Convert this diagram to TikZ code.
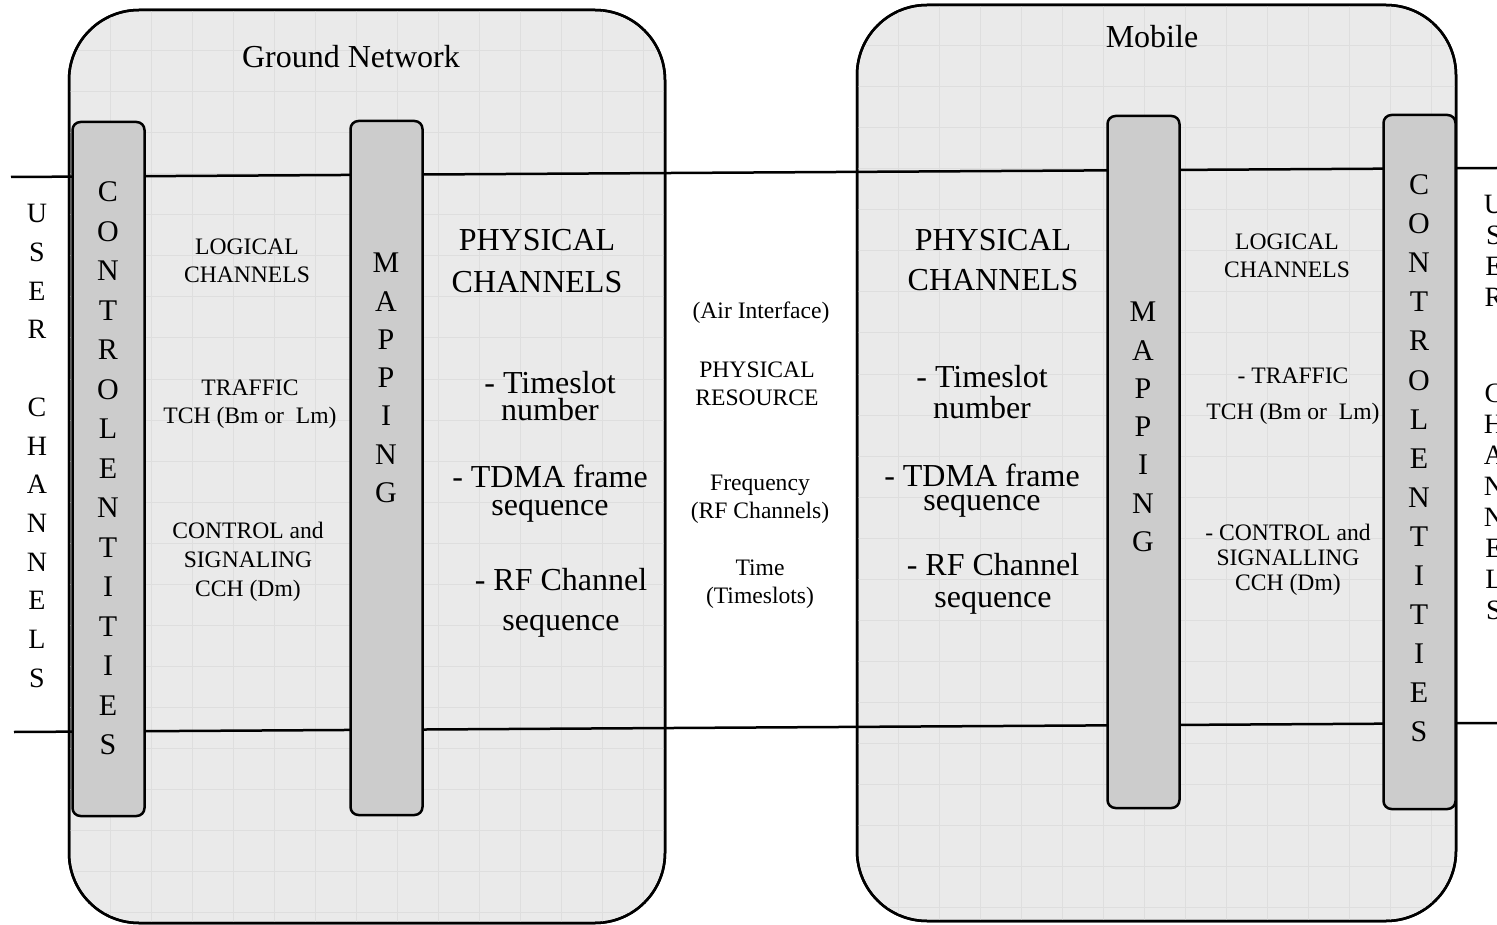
\documentclass[tikz,border=0pt]{standalone}
\usepackage{fontspec}
\setmainfont{Liberation Serif}
\definecolor{boxfill}{RGB}{234,234,234}
\definecolor{barfill}{RGB}{204,204,204}
\definecolor{gridc}{RGB}{222,222,222}
\begin{document}
\begin{tikzpicture}[x=1pt,y=-1pt,
  bigbox/.style={draw=black,line width=2.5pt,fill=boxfill,rounded corners=70pt,inner sep=0},
  barbox/.style={draw=black,line width=2.5pt,fill=barfill,rounded corners=8pt,inner sep=0,minimum width=72pt},
  gridline/.style={draw=gridc,line width=1pt},
  hline/.style={draw=black,line width=2.5pt},
  small/.style={font=\fontsize{23.6}{28}\selectfont,align=center,inner sep=0},
  big/.style={font=\fontsize{32}{27}\selectfont,align=center,inner sep=0},
  letters/.style={align=center,inner sep=0},
]
\useasboundingbox (0,0) rectangle (1497,925);
\clip (0,0) rectangle (1497,925);
% big boxes
\node[bigbox,minimum width=596pt,minimum height=913pt] (gn) at (367,466.5) {};
\node[bigbox,minimum width=599pt,minimum height=916pt] (mob) at (1156.5,463) {};
\begin{scope}
\clip[rounded corners=70pt] (69,10) rectangle (665,923);
\foreach \x in {69,110,...,700} \draw[gridline] (\x,0) -- (\x,925);
\foreach \y in {10,51,...,930} \draw[gridline] (0,\y) -- (700,\y);
\end{scope}
\begin{scope}
\clip[rounded corners=70pt] (857,5) rectangle (1456,921);
\foreach \x in {857,898,...,1480} \draw[gridline] (\x,0) -- (\x,925);
\foreach \y in {5,46,...,930} \draw[gridline] (850,\y) -- (1480,\y);
\end{scope}
\draw[line width=2.5pt,rounded corners=70pt] (69,10) rectangle (665,923);
\draw[line width=2.5pt,rounded corners=70pt] (857,5) rectangle (1456,921);
% horizontal lines
\coordinate (tl) at (11,177);
\coordinate (tr) at (1497,168);
\coordinate (bl) at (14,732);
\coordinate (br) at (1497,723);
\draw[hline] (tl) -- (tr);
\draw[hline] (bl) -- (br);
% bars
\node[barbox,minimum height=694pt] (cbL) at (108.5,469) {};
\node[barbox,minimum height=694pt] (mbL) at (386.5,468) {};
\node[barbox,minimum height=692pt] (mbR) at (1143.5,462) {};
\node[barbox,minimum height=694pt] (cbR) at (1419.5,462) {};
% vertical letter stacks
\node[letters,font=\fontsize{28}{38.7}\selectfont] (ucL) at (37,446)
  {U\\S\\E\\R\\[38.7pt]C\\H\\A\\N\\N\\E\\L\\S};
\node[letters,font=\fontsize{30}{39.5}\selectfont] (ceL) at (108,468.5)
  {C\\O\\N\\T\\R\\O\\L\\E\\N\\T\\I\\T\\I\\E\\S};
\node[letters,font=\fontsize{30}{38.3}\selectfont] (mpL) at (386,378)
  {M\\A\\P\\P\\I\\N\\G};
\node[letters,font=\fontsize{30}{38.3}\selectfont] (mpR) at (1143,427)
  {M\\A\\P\\P\\I\\N\\G};
\node[letters,font=\fontsize{30}{39.1}\selectfont] (ceR) at (1419,458.5)
  {C\\O\\N\\T\\R\\O\\L\\E\\N\\T\\I\\T\\I\\E\\S};
\node[letters,font=\fontsize{28}{31}\selectfont] (ucR) at (1494,407)
  {U\\S\\E\\R\\[65pt]C\\H\\A\\N\\N\\E\\L\\S};
% titles
\node[big] (tgn) at (351,57) {Ground Network};
\node[big] (tmob) at (1152,37) {Mobile};
% left logical
\node[small] (ll1) at (247,261) {LOGICAL\\CHANNELS};
\node[small] (ll2) at (250,404) {TRAFFIC\\TCH (Bm or\ \ Lm)};
\node[small,font=\fontsize{23.6}{29}\selectfont] (ll3) at (248,562) {CONTROL and\\SIGNALING\\CCH (Dm)};
% left physical
\node[big,font=\fontsize{32}{42}\selectfont] (pl1) at (537,261) {PHYSICAL\\CHANNELS};
\node[big] (pl2) at (550,396) {- Timeslot\\number};
\node[big,font=\fontsize{32}{28}\selectfont] (pl3) at (550,494) {- TDMA frame\\sequence};
\node[big,font=\fontsize{32}{40}\selectfont] (pl4) at (561,603) {- RF Channel\\sequence};
% middle
\node[small] (m1) at (761,313) {(Air Interface)};
\node[small] (m2) at (757,384) {PHYSICAL\\RESOURCE};
\node[small] (m3) at (760,499) {Frequency\\(RF Channels)};
\node[small] (m4) at (760,584) {Time\\(Timeslots)};
% right physical
\node[big,font=\fontsize{32}{40}\selectfont] (pr1) at (993,260) {PHYSICAL\\CHANNELS};
\node[big,font=\fontsize{32}{31}\selectfont] (pr2) at (982,392) {- Timeslot\\number};
\node[big,font=\fontsize{32}{24}\selectfont] (pr3) at (982,491) {- TDMA frame\\sequence};
\node[big,font=\fontsize{32}{32}\selectfont] (pr4) at (993,584) {- RF Channel\\sequence};
% right logical
\node[small] (lr1) at (1287,256) {LOGICAL\\CHANNELS};
\node[small,font=\fontsize{23.6}{36}\selectfont] (lr2) at (1293,396) {- TRAFFIC\\TCH (Bm or\ \ Lm)};
\node[small,font=\fontsize{23.6}{25}\selectfont] (lr3) at (1288,560) {- CONTROL and\\SIGNALLING\\CCH (Dm)};
\end{tikzpicture}
\end{document}
